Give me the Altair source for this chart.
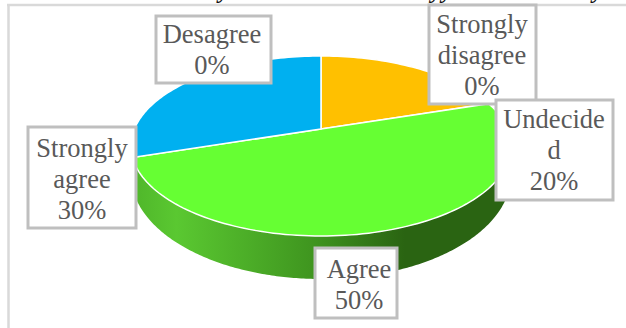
import math
import altair as alt
import pandas as pd

# Survey responses shown by the pie
categories = ["Strongly disagree", "Desagree", "Undecided", "Agree", "Strongly agree"]
shares = [0, 0, 20, 50, 30]
wrapped_names = ["Strongly\ndisagree", "Desagree", "Undecide\nd", "Agree", "Strongly\nagree"]
slice_colors = ["#a5a5a5", "#ed7d31", "#ffc000", "#66ff33", "#00b0f0"]

# Layout of the pie on the page, in pixels
W, H = 626, 328
APEX_X, APEX_Y = 321, 129
BACK_RISE, FRONT_DROP = 73, 107
HALF_WIDTH = 186.6
# Lower rim of the drum
RIM_CY, RIM_RY = 175, 104
STEPS = 240

# Label boxes: left, right, top, bottom, first baseline, text centre
boxes = {
    "Strongly disagree": (429, 536, 5, 104, 33, 482),
    "Desagree": (156, 271, 16, 83, 43, 212),
    "Strongly agree": (28, 136, 127, 228, 157, 82),
    "Agree": (315, 397, 248, 318, 278, 359),
    "Undecided": (496, 613, 100, 200, 128, 554),
}
draw_order = ["Strongly disagree", "Desagree", "Strongly agree", "Agree", "Undecided"]

# Perspective of the tilted disc
k = (FRONT_DROP - BACK_RISE) / (FRONT_DROP + BACK_RISE)
b = BACK_RISE * (1 + k)


def disc_point(turn):
    """Screen position of the rim point a given fraction of a turn clockwise from the top."""
    u, v = math.sin(2 * math.pi * turn), math.cos(2 * math.pi * turn)
    d = 1 + k * v
    return [APEX_X + HALF_WIDTH * u / d, APEX_Y - b * v / d]


def polygon(points, **props):
    return {
        "type": "Feature",
        "properties": props,
        "geometry": {"type": "Polygon", "coordinates": [points + [points[0]]]},
    }


# Top-face wedges, clockwise from twelve o'clock
wedges = []
start = 0.0
for name, share in zip(categories, shares):
    if share > 0:
        end = start + share / 100
        n = max(2, int(STEPS * share / 100))
        rim = [disc_point(start + (end - start) * i / n) for i in range(n + 1)]
        wedges.append(polygon([[APEX_X, APEX_Y]] + rim, name=name))
        start = end

# Front wall: top rim's front half, returned along the lower rim
rx = HALF_WIDTH / math.sqrt(1 - k * k)
cy = APEX_Y + (FRONT_DROP - BACK_RISE) / 2
ry = (FRONT_DROP + BACK_RISE) / 2
upper = [
    [APEX_X + rx * math.cos(math.pi * i / STEPS), cy + ry * math.sin(math.pi * i / STEPS)]
    for i in range(STEPS + 1)
]
lower = [
    [APEX_X + rx * math.cos(math.pi * i / STEPS), RIM_CY + RIM_RY * math.sin(math.pi * i / STEPS)]
    for i in range(STEPS, -1, -1)
]
wall = [polygon(upper + lower, name="wall")]

pixel_projection = {"type": "identity", "scale": 1, "translate": [0, 0]}

wall_layer = alt.Chart(alt.Data(values=wall)).mark_geoshape(
    strokeWidth=0,
    fill=alt.Gradient(
        gradient="linear",
        x1=0, x2=1, y1=0, y2=0,
        stops=[
            alt.GradientStop(offset=0, color="#4fb52a"),
            alt.GradientStop(offset=0.12, color="#5ac831"),
            alt.GradientStop(offset=0.48, color="#3f951f"),
            alt.GradientStop(offset=0.72, color="#2a6412"),
            alt.GradientStop(offset=1, color="#2a6412"),
        ],
    ),
).project(**pixel_projection)

wedge_layer = alt.Chart(alt.Data(values=wedges)).mark_geoshape(
    stroke="white", strokeWidth=1.5
).encode(
    color=alt.Color(
        "properties.name:N",
        scale=alt.Scale(domain=categories, range=slice_colors),
        legend=None,
    )
).project(**pixel_projection)

frame_df = pd.DataFrame({"v": [0]})
top_rule = alt.Chart(frame_df).mark_rule(color="#d9d9d9", strokeWidth=2.5).encode(
    x=alt.value(7), x2=alt.value(W), y=alt.value(5)
)
left_rule = alt.Chart(frame_df).mark_rule(color="#d9d9d9", strokeWidth=2.5).encode(
    x=alt.value(8.5), y=alt.value(5), y2=alt.value(H)
)

# Bold italic heading above the frame; the page edge cuts it at the descenders
heading = [
    alt.Chart(frame_df).mark_text(
        text=t, font="Liberation Serif", fontSize=24, fontWeight="bold", fontStyle="italic",
        color="#111111", align="center", baseline="alphabetic",
    ).encode(x=alt.value(x), y=alt.value(-2))
    for t, x in [("y", 224), ("yy", 442), ("y", 598)]
]

label_layers = []
for name in draw_order:
    left, right, top, bottom, base, centre = boxes[name]
    i = categories.index(name)
    label_layers.append(
        alt.Chart(frame_df).mark_rect(fill="white", stroke="#bfbfbf", strokeWidth=3).encode(
            x=alt.value(left), x2=alt.value(right), y=alt.value(top), y2=alt.value(bottom)
        )
    )
    label_layers.append(
        alt.Chart(frame_df).mark_text(
            text=f"{wrapped_names[i]}\n{shares[i]}%",
            lineBreak="\n", lineHeight=31, font="Liberation Serif", fontSize=26.5,
            color="#595959", align="center", baseline="alphabetic",
        ).encode(x=alt.value(centre), y=alt.value(base))
    )

chart = alt.layer(
    top_rule, left_rule, *heading, wall_layer, wedge_layer, *label_layers
).properties(
    width=W, height=H, padding=0, autosize=alt.AutoSizeParams(type="none"),
    background="white",
).configure_view(stroke=None)

chart.save("out.html", embed_options={"renderer": "svg", "actions": False})
